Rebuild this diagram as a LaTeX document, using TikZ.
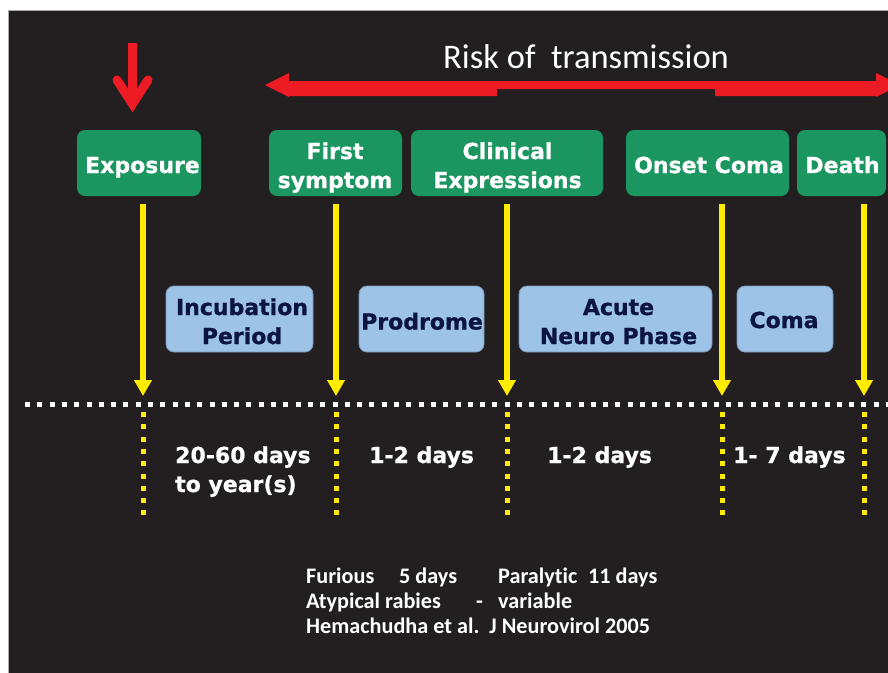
\documentclass[tikz,border=0pt]{standalone}
\usepackage{fontspec}
\setmainfont{DejaVu Sans}[BoldFeatures={FakeBold=0.8}]
\newfontfamily\calfont{Carlito}[Ligatures=NoCommon]
\usetikzlibrary{arrows.meta}

\definecolor{bgdark}{RGB}{35,31,32}
\definecolor{boxgreen}{RGB}{27,150,96}
\definecolor{boxblue}{RGB}{157,195,230}
\definecolor{boxblueedge}{RGB}{120,150,185}
\definecolor{navytext}{RGB}{12,20,66}
\definecolor{riskred}{RGB}{237,28,36}
\definecolor{markyellow}{RGB}{255,236,0}

\newcommand{\labelfont}{\fontsize{22}{29}\selectfont\bfseries}
\newcommand{\notefont}{\calfont\fontsize{22.2}{25}\selectfont\bfseries}

\tikzset{
  greenbox/.style={fill=boxgreen, rounded corners=8pt, inner sep=0pt,
    minimum height=66pt},
  bluebox/.style={fill=boxblue, draw=boxblueedge, line width=0.8pt,
    rounded corners=8pt, inner sep=0pt, minimum height=66pt},
  greentext/.style={text=white, font=\labelfont, align=center, inner sep=0pt, anchor=base},
  bluetext/.style={text=navytext, font=\labelfont, align=center, inner sep=0pt, anchor=base},
  yarrow/.style={draw=markyellow, line width=6pt,
    -{Triangle[width=17pt,length=16pt]}},
  ydots/.style={draw=markyellow, line width=5pt, dash pattern=on 5pt off 7.3pt},
  wdots/.style={draw=white, line width=5pt, dash pattern=on 5pt off 7.3pt},
  duration/.style={text=white, font=\labelfont, anchor=base west, inner sep=0pt},
  note/.style={text=white, font=\notefont, anchor=base west, inner sep=0pt},
}

\begin{document}
\begin{tikzpicture}[x=1pt, y=-1pt]
  \useasboundingbox (0,0) rectangle (888,672);
  \fill[white] (0,0) rectangle (888,672);
  \begin{scope}
    \clip (0,0) rectangle (888,672);
    % dark slide area
    \fill[bgdark] (8.5,10.5) rectangle (890,674);
    \draw[gray!65, line width=0.8pt] (8.5,674) -- (8.5,10.5) -- (890,10.5);

    % risk of transmission: double-headed bar, thinner in the middle
    \fill[riskred] (265,85) -- (289,73) -- (289,81) -- (876,81) -- (876,73)
      -- (900,85) -- (876,97) -- (876,96) -- (715,96) -- (715,89)
      -- (497,89) -- (497,96) -- (289,96) -- (289,97) -- cycle;
  \end{scope}
  \node[text=white, font=\calfont\fontsize{34.5}{40}\selectfont, anchor=base west,
    inner sep=0pt] (risk) at (443,68) {Risk of\ \ transmission};

  % exposure marker
  \coordinate (expA) at (132.5,43);
  \coordinate (expB) at (132.5,104);
  \coordinate (expL) at (117,80);
  \coordinate (expR) at (148,80);
  \draw[riskred, line width=9pt] (expA) -- (expB);
  \draw[riskred, line width=9pt, line cap=round, line join=miter] (expL) -- (expB) -- (expR);

  % events
  \node[greenbox, minimum width=124pt] (exposure) at (139,163) {};
  \node[greenbox, minimum width=133pt] (first) at (335.5,163) {};
  \node[greenbox, minimum width=192pt] (clinical) at (507,163) {};
  \node[greenbox, minimum width=163pt] (onset) at (707.5,163) {};
  \node[greenbox, minimum width=89pt] (death) at (841.5,163) {};
  \node[greentext] (exposureT) at (142.5,173) {Exposure};
  \node[greentext] (firstT) at (335,188) {First\\symptom};
  \node[greentext] (clinicalT) at (507.5,188) {Clinical\\Expressions};
  \node[greentext] (onsetT) at (709,173) {Onset Coma};
  \node[greentext] (deathT) at (842.5,173) {Death};

  % phases
  \node[bluebox, minimum width=147pt] (incub) at (239.5,319) {};
  \node[bluebox, minimum width=125pt] (prodrome) at (421.5,319) {};
  \node[bluebox, minimum width=193pt] (acute) at (615.5,319) {};
  \node[bluebox, minimum width=96pt] (coma) at (785,319) {};
  \node[bluetext] (incubT) at (242,344) {Incubation\\Period};
  \node[bluetext] (prodromeT) at (422,329.5) {Prodrome};
  \node[bluetext] (acuteT) at (618.5,344) {Acute\\Neuro Phase};
  \node[bluetext] (comaT) at (784,328) {Coma};

  % time marks
  \foreach \i/\x in {1/143, 2/336, 3/507, 4/722, 5/864} {
    \coordinate (top\i) at (\x,204);
    \coordinate (tip\i) at (\x,396);
    \coordinate (dA\i) at (\x,412);
    \coordinate (dB\i) at (\x,517);
    \draw[yarrow] (top\i) -- (tip\i);
    \draw[ydots] (dA\i) -- (dB\i);
  }

  % time axis
  \coordinate (axisL) at (25,404);
  \coordinate (axisR) at (892,404);
  \draw[wdots] (axisL) -- (axisR);

  % durations
  \node[duration] (d1) at (175,463) {20-60 days};
  \node[duration] (d1b) at (175,492) {to year(s)};
  \node[duration] (d2) at (369,463) {1-2 days};
  \node[duration] (d3) at (547,463) {1-2 days};
  \node[duration] (d4) at (733,463) {1- 7 days};

  % notes
  \node[note] (n1) at (306,583) {Furious};
  \node[note] (n2) at (399,583) {5 days};
  \node[note] (n3) at (498,583) {Paralytic};
  \node[note] (n4) at (588,583) {11 days};
  \node[note] (n5) at (306,608) {Atypical rabies};
  \node[note] (n6) at (476,608) {-};
  \node[note] (n7) at (498,608) {variable};
  \node[note] (n8) at (306,633) {Hemachudha et al.\ \ J Neurovirol 2005};
\end{tikzpicture}
\end{document}
